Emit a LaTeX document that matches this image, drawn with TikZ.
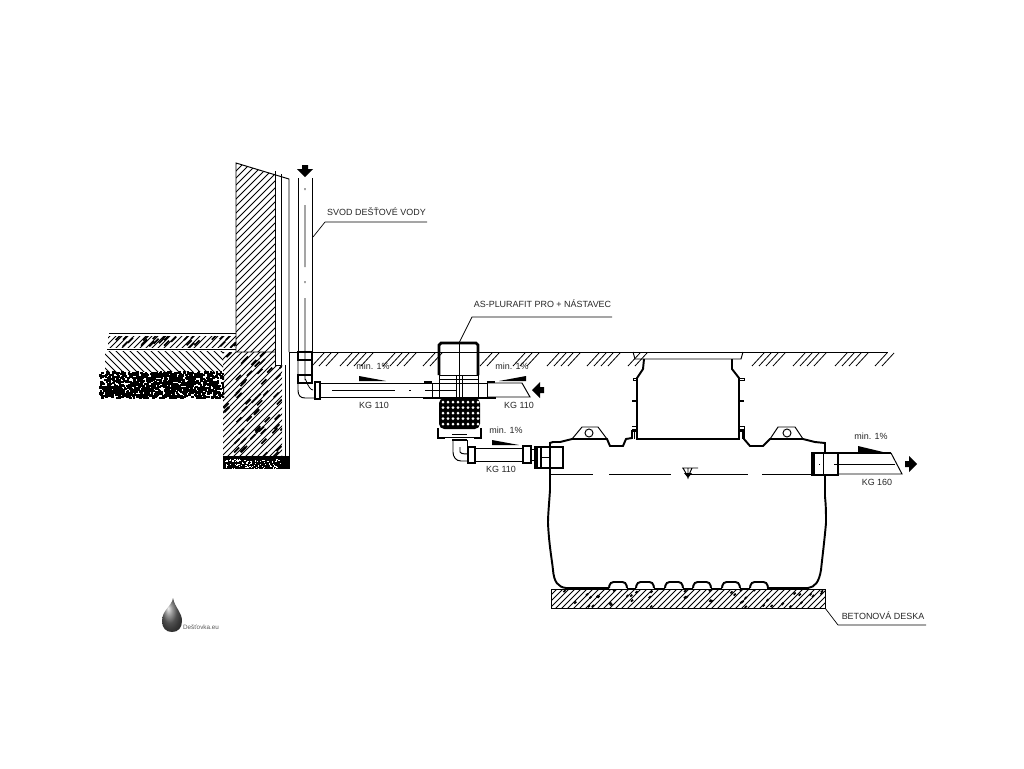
\documentclass[tikz,border=0pt]{standalone}
\usepackage{fontspec}
\setmainfont{Liberation Sans}
\usepackage{xcolor}
\tikzset{
  lbl/.style={inner sep=0pt,font=\fontsize{5.1}{6}\selectfont,text=black!85},
  logotext/.style={inner sep=0pt,font=\fontsize{3.6}{4}\selectfont,text=black!65},
  thinline/.style={line width=0.4pt},
  wallline/.style={line width=0.55pt},
  boldline/.style={line width=1.1pt},
  hatchline/.style={line width=0.45pt},
  speckline/.style={line width=1pt},
  axisline/.style={line width=0.45pt},
}
\begin{document}
\begin{tikzpicture}[x=0.02cm,y=-0.02cm]
\useasboundingbox (0,0) rectangle (1024,768);
% hatch: clip path, first, last, next value, style
\newcommand{\fwdhatch}[5]{\begin{scope}\clip #1;
  \foreach \c in {#2,#4,...,#3} \draw[#5] (\c-100,100)--(\c-700,700);
\end{scope}}
\newcommand{\backhatch}[5]{\begin{scope}\clip #1;
  \foreach \c in {#2,#4,...,#3} \draw[#5] (\c+100,100)--(\c+700,700);
\end{scope}}
% dark strokes: clip path, left, top, width, height, count, length
\newcommand{\specks}[7]{\begin{scope}\clip #1;
  \foreach \i in {1,...,#6}{
    \pgfmathsetmacro{\gx}{#2+rnd*#4}
    \pgfmathsetmacro{\gy}{#3+rnd*#5}
    \draw[speckline] (\gx,\gy)--++(#7,-#7);
  }
\end{scope}}
% block arrow: tip, direction x, direction y
\newcommand{\blockarrow}[3]{\fill (#1) --++(#3*8+#2*-8,#2*8+#3*-8) --++(#3*-5,#2*-5) --++(#2*-4,#3*-4) --++(#3*-6,#2*-6) --++(#2*4,#3*4) --++(#3*-5,#2*-5) --cycle;}
\pgfmathsetseed{7}

% Wall
\draw[wallline] (275,352)--(236,352)--(236,163)--(289,179)--(289,352);
\draw[wallline] (275,171)--(275,365) (281,174)--(281,365) (275,365)--(281,365);
\fwdhatch{(236,163)--(275,175)--(275,352)--(236,352)--cycle}{400}{630}{407}{hatchline}

% Floor layers
\draw[wallline] (109,333)--(236,333) (107,349)--(236,349);
\fwdhatch{(108,336) rectangle (236,347)}{440}{590}{446}{hatchline}
\specks{(108,336) rectangle (236,347)}{108}{338}{128}{10}{26}{5}
\backhatch{(105,351) rectangle (223,371)}{-270}{130}{-263}{hatchline}
\begin{scope}
\clip (99,371) rectangle (224,398);
\foreach \i in {1,...,1000}{
  \pgfmathsetmacro{\gx}{99+rnd*124}
  \pgfmathsetmacro{\gy}{371+rnd*26}
  \fill (\gx,\gy) rectangle ++(2.6,2.2);
}
\end{scope}

% Foundation
\fwdhatch{(223,352)--(275,352)--(275,365)--(282,365)--(282,456)--(223,456)--cycle}{570}{745}{576}{hatchline}
\specks{(223,352)--(275,352)--(275,365)--(282,365)--(282,456)--(223,456)--cycle}{223}{355}{58}{103}{55}{5}
\draw[wallline] (285,365)--(285,456) (289,352)--(289,469);
\fill (223,456) rectangle (289,469);
\foreach \i in {1,...,90}{
  \pgfmathsetmacro{\gx}{225+rnd*55}
  \pgfmathsetmacro{\gy}{459+rnd*9}
  \fill[white] (\gx,\gy) rectangle ++(1.3,1.1);
}

% Ground
\draw[wallline] (290,352)--(888,352);
\foreach \g/\n in {312/14,340/21,383/21,423/7,480/7,513/14,547/21,587/21,628/0,752/21,793/21,835/21,875/0}{
  \foreach \s in {0,7,...,\n}
    \draw[hatchline] (\g+\s,366)--(\g+\s+12,353);
}

% Downpipe
\draw[wallline] (298,178)--(298,352) (312,178)--(312,352);
\draw[axisline] (305,188)--(305,190) (305,205)--(305,267) (305,281)--(305,283) (305,298)--(305,380) to[out=90,in=180] (313,390);
\blockarrow{305,177}{0}{1}
\draw[boldline] (297,352)--(313,352) (297,360)--(313,360) (298,352)--(298,360) (312,352)--(312,360);
\draw[boldline] (297,375)--(313,375) (297,383)--(313,383) (298,375)--(298,383);
\draw[wallline] (298,360)--(298,390) .. controls (298,395) and (300,398) .. (305,398)--(315,398);
\draw[boldline] (312,360)--(312,383);
\draw[boldline] (315,382) rectangle (320,399);

% Left pipe
\draw[wallline] (320,383)--(432,383) (320,397)--(432,397);
\draw[axisline] (332,390)--(395,390) (409,390)--(411,390) (425,390)--(456,390);

% Filter shaft
\draw[boldline,line width=1.6pt] (439,375)--(439,345)--(441,343)--(476,343)--(478,345)--(478,375);
\draw[wallline] (439,375)--(478,375) (439,379)--(478,379);
\draw[wallline] (439,375)--(439,398) (478,375)--(478,398);
\draw[wallline] (432,383) rectangle (487,397);
\draw[thinline] (456,375)--(456,398) (462,375)--(462,398) (459,343)--(459,398);
\draw[boldline] (424,382)--(432,382) (487,382)--(495,382) (423,398)--(496,398);
% Filter basket
\fill[rounded corners=3] (439,398) rectangle (480,429);
\foreach \hx in {443,448,...,478}
  \foreach \hy in {402,407.5,...,425}
    \fill[white] (\hx,\hy) circle (1.5);
\draw[wallline] (440,437)--(480,437) (452,434)--(467,434);
\draw[boldline,line width=1.6pt] (438,428)--(438,438)--(445,438) (481,428)--(481,438)--(474,438);

% Right pipe
\draw[wallline] (487,383)--(522,383)--(530,397)--(487,397);
\blockarrow{532,390}{-1}{0}

% Lower elbow
\draw[boldline] (452,440)--(467,440);
\draw[wallline] (453,440)--(453,452) .. controls (453,457) and (456,461) .. (461,461)--(468,461);
\draw[wallline] (460,447)--(460,452) .. controls (460,453) and (462,454) .. (468,454);
\draw[wallline] (467,440)--(467,447);
\draw[boldline] (468,447) rectangle (475,463);
\draw[wallline] (475,448)--(523,448) (475,461)--(523,461);
\draw[boldline] (523,446) rectangle (531,463);
\draw[wallline] (531,449)--(535,449) (531,460)--(535,460);

% Inlet socket
\draw[boldline] (535,447)--(563,447)--(563,468)--(535,468)--cycle;
\draw[boldline] (537,446)--(537,469) (541,446)--(541,469);
\draw[wallline] (541,457)--(550,457);

% Tank
\draw[boldline] (550,490)--(550,443)--(553,442)--(560,442)--(572,439)--(607,439)--(610,446)--(623,446)--(626,439)--(632,438)--(632,431)--(637,431);
\draw[boldline] (739,431)--(744,431)--(744,439)--(750,446)--(763,446)--(770,439)--(803,439)--(815,442)--(825,443)--(825,453);
\draw[boldline] (825,475)--(825,497);
\draw[boldline] (550,490) .. controls (549,505) and (548,515) .. (548,523) .. controls (549,545) and (552,560) .. (553,570) .. controls (554,582) and (558,587) .. (566,588)--(609,588);
\draw[boldline] (825,497) .. controls (826,505) and (826,515) .. (826,523) .. controls (824,545) and (822,560) .. (821,570) .. controls (819,582) and (815,587) .. (808,588)--(767,588);
\foreach \bx in {609,636,665,693,722,750}{
  \draw[boldline,rounded corners=2] (\bx,588)--(\bx+1,582)--(\bx+17,582)--(\bx+18,588);
}
\draw[wallline] (627,588)--(636,588) (654,588)--(665,588) (683,588)--(693,588) (711,588)--(722,588) (740,588)--(750,588);
% Lifting lugs
\draw[wallline] (572,439)--(582,427)--(598,427)--(607,439);
\draw[wallline] (589,433) circle (4);
\draw[wallline] (770,439)--(778,427)--(795,427)--(803,439);
\draw[wallline] (787,433) circle (4);

% Riser
\draw[wallline] (633,352)--(635,359)--(741,359)--(743,352);
\draw[boldline] (644,359)--(643,369)--(637,378)--(637,439)--(739,439)--(739,378)--(732,369)--(732,359);
\draw[wallline] (633,378) rectangle (637,380) (739,378) rectangle (744,380);
\draw[boldline] (632,401)--(637,401) (739,401)--(744,401);
\draw[wallline] (632,426)--(637,426)--(637,429)--(632,429) (739,426)--(744,426)--(744,429)--(739,429);
\draw[wallline] (634,431)--(634,439) (742,431)--(742,439);

% Water level
\draw[axisline] (551,474)--(593,474) (609,474)--(671,474) (690,474)--(748,474) (762,474)--(812,474);
\draw[wallline] (682,468)--(698,468) (683,468)--(688,477)--(692,468) (688,468)--(688,479);
\fill (684,473)--(692,473)--(688,478)--cycle;

% Outlet
\draw[boldline] (812,453) rectangle (838,475);
\fill (811,453) rectangle (815,475);
\draw[wallline] (823,453)--(823,475);
\draw[boldline] (838,453)--(891,453);
\draw[wallline] (891,453)--(902,474)--(838,474);
\draw[axisline] (834,464)--(895,464) (819,464)--(820,464);
\blockarrow{917,464}{1}{0}

% Slab
\draw[wallline] (551,589) rectangle (825,608);
\fwdhatch{(551,589) rectangle (825,608)}{1140}{1435}{1146}{hatchline}
\specks{(551,589) rectangle (825,608)}{551}{591}{274}{17}{45}{2}

% Slope wedges
\fill (359,376)--(386,381)--(359,381)--cycle;
\fill (499,381)--(526,376)--(526,381)--cycle;
\fill (492,440)--(519,445)--(492,445)--cycle;
\fill (858,446)--(883,452)--(858,452)--cycle;

% Labels
\node[lbl] (minA) at (373,366) {min. 1\%};
\node[lbl] (minB) at (512,366) {min. 1\%};
\node[lbl] (minC) at (506,430) {min. 1\%};
\node[lbl] (minD) at (871,436) {min. 1\%};
\node[lbl] (kgA) at (374,405) {KG 110};
\node[lbl] (kgB) at (519,405) {KG 110};
\node[lbl] (kgC) at (501,469) {KG 110};
\node[lbl] (kgD) at (877,482) {KG 160};
\node[lbl] (svod) at (376.5,212) {SVOD DEŠŤOVÉ VODY};
\node[lbl] (plura) at (542.5,304) {AS-PLURAFIT PRO + NÁSTAVEC};
\node[lbl] (deska) at (883,616) {BETONOVÁ DESKA};

% Leaders
\coordinate (svodA) at (313,237);
\coordinate (svodB) at (325,222);
\coordinate (svodC) at (427,222);
\draw[thinline] (svodA)--(svodB)--(svodC);
\coordinate (pluraA) at (459,343);
\coordinate (pluraB) at (472,317);
\coordinate (pluraC) at (612,317);
\draw[thinline] (pluraA)--(pluraB)--(pluraC);
\coordinate (deskaA) at (825,608);
\coordinate (deskaB) at (838,625);
\coordinate (deskaC) at (926,625);
\draw[thinline] (deskaA)--(deskaB)--(deskaC);

% Logo
\shade[ball color=black!55] (173,598) .. controls (172,606) and (162,610) .. (162,621) .. controls (162,628) and (166,632) .. (172,632) .. controls (178,632) and (182,628) .. (182,621) .. controls (182,612) and (175,608) .. (173,598);
\node[logotext] (logo) at (201,627) {Dešťovka.eu};
\end{tikzpicture}
\end{document}
